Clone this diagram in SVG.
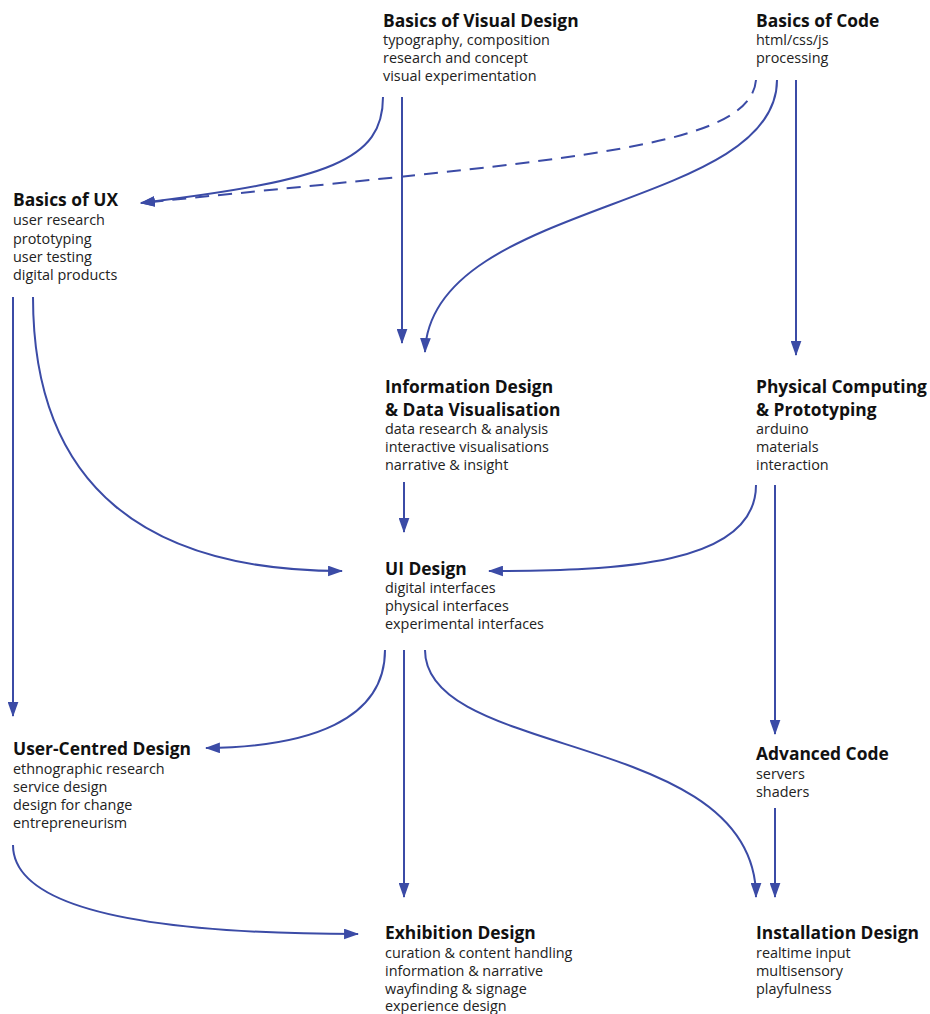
<svg xmlns="http://www.w3.org/2000/svg" width="930" height="1014" viewBox="0 0 930 1014">
<defs>
<style>
.t{font-family:"Open Sans","Noto Sans","DejaVu Sans",sans-serif;font-weight:700;font-size:17.4px;fill:#111}
.s{font-family:"Open Sans","Noto Sans","DejaVu Sans",sans-serif;font-size:14.4px;fill:#222}
.c{fill:none;stroke:#3b4ba6;stroke-width:2}
.d{stroke-dasharray:14 9}
</style>
<marker id="ah" viewBox="0 0 14 10" refX="13" refY="5" markerWidth="15" markerHeight="11" markerUnits="userSpaceOnUse" orient="auto">
<path d="M0,0 L14,5 L0,10 z" fill="#3b4ba6"/>
</marker>
</defs>
<rect width="930" height="1014" fill="#fff"/>
<g id="connectors">
<path class="c" marker-end="url(#ah)" d="M383,97 C383,160 330,180 141,203"/>
<path class="c" marker-end="url(#ah)" d="M402,97 L402,343"/>
<path class="c d" marker-end="url(#ah)" d="M756,80 C750,150 560,160 141,203"/>
<path class="c" marker-end="url(#ah)" d="M777,80 C777,210 430,200 425,352"/>
<path class="c" marker-end="url(#ah)" d="M796,80 L796,355"/>
<path class="c" marker-end="url(#ah)" d="M13,297 L13,716"/>
<path class="c" marker-end="url(#ah)" d="M33,297 C33,490 150,571 342,571"/>
<path class="c" marker-end="url(#ah)" d="M404,482 L404,532"/>
<path class="c" marker-end="url(#ah)" d="M756,485 C756,565 620,571 489,571"/>
<path class="c" marker-end="url(#ah)" d="M775,485 L775,734"/>
<path class="c" marker-end="url(#ah)" d="M385,650 C385,720 310,747 206,748"/>
<path class="c" marker-end="url(#ah)" d="M404,650 L404,897"/>
<path class="c" marker-end="url(#ah)" d="M425,650 C425,760 756,730 756,897"/>
<path class="c" marker-end="url(#ah)" d="M775,808 L775,897"/>
<path class="c" marker-end="url(#ah)" d="M13,845 C13,920 200,934 358,934"/>
</g>
<g id="visual-design"><text class="t" x="383" y="27">Basics of Visual Design</text><text class="s" x="383" y="45">typography, composition</text><text class="s" x="383" y="63">research and concept</text><text class="s" x="383" y="81">visual experimentation</text></g>
<g id="code"><text class="t" x="756" y="27">Basics of Code</text><text class="s" x="756" y="45">html/css/js</text><text class="s" x="756" y="63">processing</text></g>
<g id="ux"><text class="t" x="13" y="206">Basics of UX</text><text class="s" x="13" y="225">user research</text><text class="s" x="13" y="244">prototyping</text><text class="s" x="13" y="262">user testing</text><text class="s" x="13" y="280">digital products</text></g>
<g id="info-design"><text class="t" x="385" y="393">Information Design</text><text class="t" x="385" y="416">&amp; Data Visualisation</text><text class="s" x="385" y="434">data research &amp; analysis</text><text class="s" x="385" y="452">interactive visualisations</text><text class="s" x="385" y="470">narrative &amp; insight</text></g>
<g id="physical"><text class="t" x="756" y="393">Physical Computing</text><text class="t" x="756" y="416">&amp; Prototyping</text><text class="s" x="756" y="434">arduino</text><text class="s" x="756" y="452">materials</text><text class="s" x="756" y="470">interaction</text></g>
<g id="ui-design"><text class="t" x="385" y="575">UI Design</text><text class="s" x="385" y="593">digital interfaces</text><text class="s" x="385" y="611">physical interfaces</text><text class="s" x="385" y="629">experimental interfaces</text></g>
<g id="ucd"><text class="t" x="13" y="755">User-Centred Design</text><text class="s" x="13" y="774">ethnographic research</text><text class="s" x="13" y="792">service design</text><text class="s" x="13" y="810">design for change</text><text class="s" x="13" y="828">entrepreneurism</text></g>
<g id="advanced-code"><text class="t" x="756" y="760">Advanced Code</text><text class="s" x="756" y="779">servers</text><text class="s" x="756" y="797">shaders</text></g>
<g id="exhibition"><text class="t" x="385" y="939">Exhibition Design</text><text class="s" x="385" y="958">curation &amp; content handling</text><text class="s" x="385" y="976">information &amp; narrative</text><text class="s" x="385" y="994">wayfinding &amp; signage</text><text class="s" x="385" y="1011">experience design</text></g>
<g id="installation"><text class="t" x="756" y="939">Installation Design</text><text class="s" x="756" y="958">realtime input</text><text class="s" x="756" y="976">multisensory</text><text class="s" x="756" y="994">playfulness</text></g>
</svg>
